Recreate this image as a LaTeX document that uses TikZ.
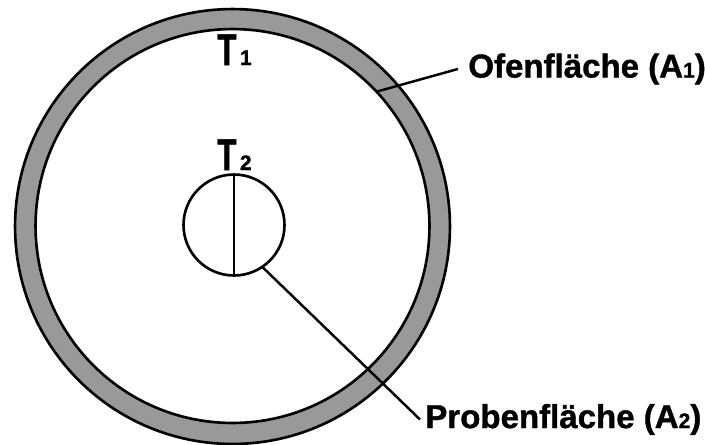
\documentclass[tikz,border=0pt]{standalone}
\usepackage{fontspec}
\setmainfont{Liberation Sans}[BoldFeatures={FakeBold=1.2}]
\usetikzlibrary{calc}
\definecolor{ringgray}{RGB}{153,153,153}
\newcommand{\idx}[1]{{\fontsize{12}{12}\selectfont #1}}
\newcommand{\narrowT}{\scalebox{0.7}[1]{T}}

\begin{document}
\begin{tikzpicture}[x=0.02cm,y=-0.02cm,
    wall/.style={draw,circle,line width=1.5pt,inner sep=0pt,outer sep=0pt},
    lead/.style={line width=1.4pt},
    lbl/.style={font=\fontsize{18.8}{22}\selectfont\bfseries,inner sep=0pt,anchor=base west},
    tlbl/.style={font=\fontsize{25.4}{28}\selectfont\bfseries,inner sep=0pt,anchor=base west}]
    \useasboundingbox (0,0) rectangle (705,444);
    % furnace wall and cavity
    \node[wall,fill=ringgray,minimum size=8.7cm] (oven) at (232.5,226.5) {};
    \node[wall,fill=white,minimum size=7.88cm] (cavity) at (232.5,226) {};
    % sample
    \node[wall,minimum size=2.02cm] (probe) at (234,225) {};
    \draw[lead] (probe.north)--(probe.south);
    % labels
    \node[tlbl] (t1) at (217,65) {\narrowT\hspace{2pt}\idx{1}};
    \node[tlbl] (t2) at (217,170) {\narrowT\hspace{2pt}\idx{2}};
    \node[lbl] (ofen) at (468,77.5) {Ofenfläche (A\idx{1})};
    \node[lbl] (proben) at (425,428) {Probenfläche (A\idx{2})};
    \draw[lead] (cavity.43)--($(ofen.west)+(-10,0)$);
    \draw[lead] (probe.-56)--($(proben.west)+(-5,0)$);
\end{tikzpicture}
\end{document}
